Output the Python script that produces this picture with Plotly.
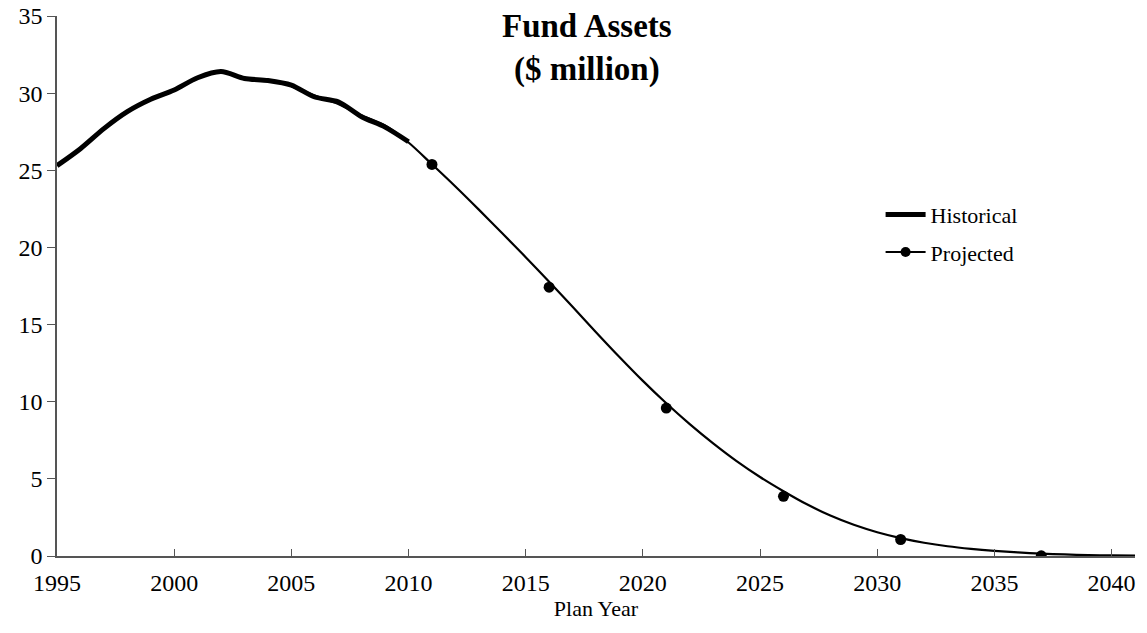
import plotly.graph_objects as go

# Historical fund assets ($ million)
hist_years = list(range(1995, 2011))
hist_values = [25.3, 26.4, 27.7, 28.8, 29.6, 30.2, 31.0, 31.4, 30.95, 30.82, 30.52, 29.75, 29.44, 28.47, 27.8, 26.85]

# Projected fund assets (annual, smooth line)
proj_years = list(range(2005, 2042))
proj_values = [30.45, 29.85, 29.3, 28.55, 27.9, 26.8, 25.39, 23.95, 22.45, 20.92, 19.37, 17.77, 16.15,
               14.51, 12.9, 11.35, 9.9, 8.55, 7.3, 6.15, 5.12, 4.2, 3.35, 2.62, 2.02, 1.54, 1.16,
               0.86, 0.63, 0.46, 0.33, 0.23, 0.15, 0.1, 0.06, 0.04, 0.02]

# Projected valuation points (markers)
mark_years = [2011, 2016, 2021, 2026, 2031, 2037]
mark_values = [25.38, 17.42, 9.59, 3.87, 1.07, 0.01]

x_ticks = list(range(1995, 2045, 5))
y_ticks = list(range(0, 40, 5))

FONT = "Liberation Serif"
AXIS = "#555555"

fig = go.Figure()
fig.add_trace(go.Scatter(x=hist_years, y=hist_values, mode="lines", name="Historical",
                         legendgroup="h",
                         line=dict(color="black", width=5, shape="spline", smoothing=0.8)))
fig.add_trace(go.Scatter(x=proj_years, y=proj_values, mode="lines", showlegend=False,
                         legendgroup="p",
                         line=dict(color="black", width=2.2, shape="spline", smoothing=0.8)))
fig.add_trace(go.Scatter(x=mark_years, y=mark_values, mode="markers", showlegend=False,
                         legendgroup="p",
                         marker=dict(color="black", size=11)))
fig.add_trace(go.Scatter(x=[None], y=[None], mode="lines+markers", name="Projected",
                         legendgroup="p",
                         line=dict(color="black", width=2), marker=dict(color="black", size=10)))

fig.add_annotation(text="<b>Fund Assets<br>($ million)</b>", xref="paper", yref="paper",
                   x=0.4914, y=1.018, xanchor="center", yanchor="top", showarrow=False,
                   font=dict(family=FONT, size=33, color="black"))

fig.update_layout(
    width=1147, height=633,
    margin=dict(l=57, r=12, t=16, b=77),
    paper_bgcolor="white", plot_bgcolor="white",
    font=dict(family=FONT, color="black", size=22),
    legend=dict(x=0.764, y=0.671, xanchor="left", yanchor="top", bgcolor="rgba(0,0,0,0)",
                font=dict(family=FONT, size=22), traceorder="grouped", tracegroupgap=6,
                itemwidth=40),
    showlegend=True,
)
fig.update_xaxes(range=[1995, 2041], tickvals=x_ticks, ticks="inside", ticklen=7, tickcolor=AXIS,
                 showline=True, linecolor=AXIS, linewidth=1.5, showgrid=False, zeroline=False,
                 title=dict(text="Plan Year", font=dict(family=FONT, size=22), standoff=4),
                 tickfont=dict(family=FONT, size=24), ticklabelstandoff=4, automargin=False)
fig.update_yaxes(range=[0, 35], tickvals=y_ticks, ticks="outside", ticklen=8, tickcolor=AXIS,
                 showline=True, linecolor=AXIS, linewidth=1.5, showgrid=False, zeroline=False,
                 tickfont=dict(family=FONT, size=24), automargin=False)

fig.write_html("out.html", config={"displayModeBar": False},
               post_script="document.body.style.margin='0';document.body.style.overflow='hidden';")
